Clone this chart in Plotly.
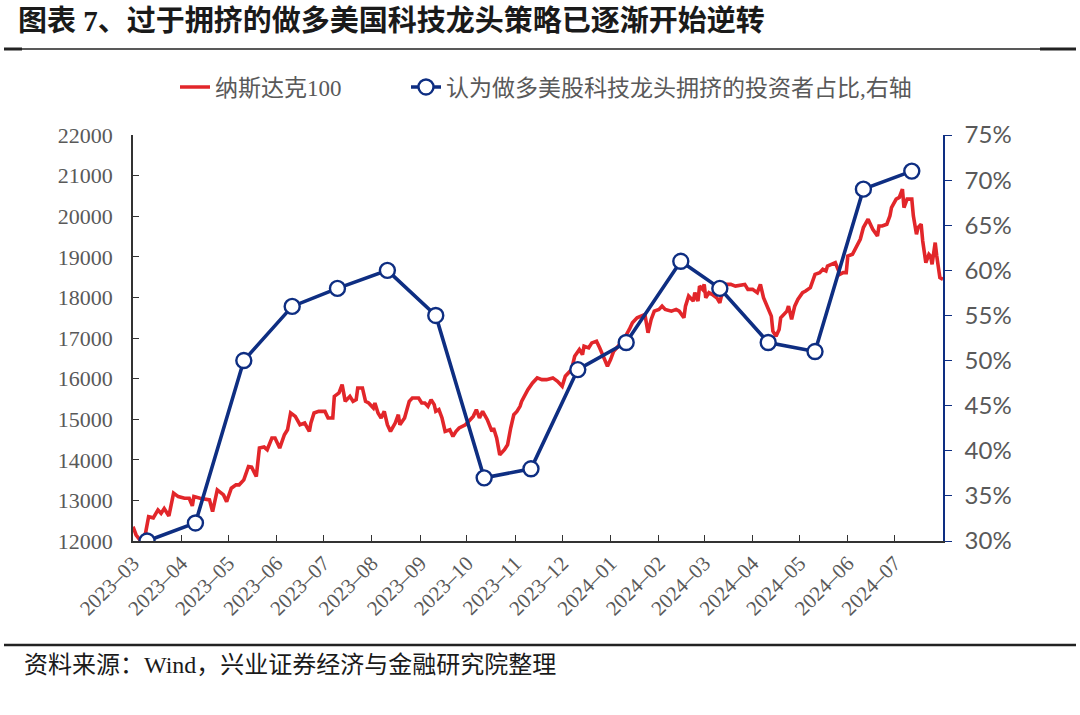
import pandas as pd
import plotly.graph_objects as go

# ---------------- data ----------------
ndx_dates = [
    "2023-03-01", "2023-03-03", "2023-03-06", "2023-03-09", "2023-03-11", "2023-03-14", "2023-03-17", "2023-03-19",
    "2023-03-21", "2023-03-24", "2023-03-27", "2023-03-30",
    "2023-04-03", "2023-04-06", "2023-04-08", "2023-04-09", "2023-04-13", "2023-04-17", "2023-04-19", "2023-04-21",
    "2023-04-24", "2023-04-28", "2023-04-30",
    "2023-05-03", "2023-05-06", "2023-05-08", "2023-05-11", "2023-05-14", "2023-05-16", "2023-05-19", "2023-05-21",
    "2023-05-24", "2023-05-26", "2023-05-29", "2023-05-31",
    "2023-06-03", "2023-06-06", "2023-06-08", "2023-06-10", "2023-06-13", "2023-06-16", "2023-06-19", "2023-06-22",
    "2023-06-23", "2023-06-25", "2023-06-28",
    "2023-07-02", "2023-07-04", "2023-07-07", "2023-07-08", "2023-07-11", "2023-07-13", "2023-07-15", "2023-07-18",
    "2023-07-20", "2023-07-22", "2023-07-23", "2023-07-26", "2023-07-28", "2023-07-30",
    "2023-08-02", "2023-08-03", "2023-08-05", "2023-08-07", "2023-08-09", "2023-08-11", "2023-08-13", "2023-08-16",
    "2023-08-18", "2023-08-19", "2023-08-22", "2023-08-25", "2023-08-27", "2023-08-31",
    "2023-09-02", "2023-09-04", "2023-09-06", "2023-09-08", "2023-09-10", "2023-09-11", "2023-09-13", "2023-09-15",
    "2023-09-17", "2023-09-20", "2023-09-22", "2023-09-24", "2023-09-26", "2023-09-30",
    "2023-10-03", "2023-10-05", "2023-10-07", "2023-10-09", "2023-10-11", "2023-10-14", "2023-10-17", "2023-10-18",
    "2023-10-20", "2023-10-22", "2023-10-25", "2023-10-27", "2023-10-29", "2023-10-31",
    "2023-11-02", "2023-11-04", "2023-11-05", "2023-11-07", "2023-11-09", "2023-11-12", "2023-11-15", "2023-11-18",
    "2023-11-21", "2023-11-25", "2023-11-28",
    "2023-12-01", "2023-12-03", "2023-12-07", "2023-12-09", "2023-12-12", "2023-12-14", "2023-12-15", "2023-12-18",
    "2023-12-20", "2023-12-23", "2023-12-25", "2023-12-27", "2023-12-30",
    "2024-01-01", "2024-01-03", "2024-01-05", "2024-01-08", "2024-01-10", "2024-01-13", "2024-01-15", "2024-01-18",
    "2024-01-20", "2024-01-23", "2024-01-25", "2024-01-27", "2024-01-29",
    "2024-02-01", "2024-02-03", "2024-02-05", "2024-02-09", "2024-02-12", "2024-02-14", "2024-02-17", "2024-02-18",
    "2024-02-20", "2024-02-23", "2024-02-24", "2024-02-26", "2024-02-27", "2024-02-29",
    "2024-03-01", "2024-03-02", "2024-03-04", "2024-03-06", "2024-03-09", "2024-03-11", "2024-03-13", "2024-03-15",
    "2024-03-18", "2024-03-21", "2024-03-25", "2024-03-27", "2024-03-29",
    "2024-04-01", "2024-04-04", "2024-04-06", "2024-04-08", "2024-04-11", "2024-04-13", "2024-04-14", "2024-04-16",
    "2024-04-18", "2024-04-19", "2024-04-23", "2024-04-24", "2024-04-26", "2024-04-28", "2024-04-30",
    "2024-05-03", "2024-05-05", "2024-05-08", "2024-05-11", "2024-05-14", "2024-05-16", "2024-05-18", "2024-05-19",
    "2024-05-21", "2024-05-24", "2024-05-27", "2024-05-29", "2024-05-31",
    "2024-06-01", "2024-06-04", "2024-06-07", "2024-06-09", "2024-06-11", "2024-06-13", "2024-06-14", "2024-06-16",
    "2024-06-17", "2024-06-20", "2024-06-21", "2024-06-23", "2024-06-26", "2024-06-28", "2024-06-29",
    "2024-07-02", "2024-07-04", "2024-07-06", "2024-07-07", "2024-07-09", "2024-07-12", "2024-07-13", "2024-07-15",
    "2024-07-16", "2024-07-18", "2024-07-19", "2024-07-21", "2024-07-23", "2024-07-24", "2024-07-25", "2024-07-27",
    "2024-07-28", "2024-07-30", "2024-08-01",
]

ndx_values = [
    12353, 12148, 12000, 12190, 12600, 12570, 12765, 12680, 12800, 12617, 13178, 13094,
    13054, 13054, 12864, 13094, 13054, 13012, 13012, 12723, 13259, 13136, 12970,
    13300, 13383, 13383, 13506, 13835, 13820, 13588, 14289, 14314, 14247, 14536, 14536,
    14289, 14617, 14740, 15153, 15070, 14864, 14906, 14700, 14906, 15153, 15193,
    15193, 15030, 15030, 15563, 15647, 15852, 15440, 15563, 15440, 15481, 15770, 15770, 15440, 15400,
    15277, 15400, 15153, 15030, 15193, 14864, 14700, 14906, 15111, 14864, 15030, 15440, 15523, 15523,
    15400, 15400, 15317, 15481, 15358, 15193, 15235, 15030, 14700, 14740, 14576, 14700, 14783, 14864,
    14988, 15070, 15235, 15030, 15193, 14988, 14700, 14783, 14536, 14123, 14247, 14370, 14783, 15111,
    15193, 15317, 15440, 15605, 15728, 15893, 16017, 15975, 15975, 16017, 15933,
    15810, 16057, 16222, 16550, 16716, 16592, 16798, 16758, 16880, 16921, 16758, 16592, 16304,
    16469, 16674, 16758, 16921, 17004, 17210, 17375, 17498, 17540, 17580, 17128, 17457, 17662,
    17704, 17785, 17704, 17662, 17704, 17662, 17498, 17785, 18032, 17909, 18116, 17909, 18279, 18197,
    18321, 17993, 18116, 18074, 17993, 17868, 18197, 18321, 18321, 18279, 18321, 18321, 18197,
    18197, 18116, 18321, 17993, 17745, 17540, 17168, 17045, 17210, 17498, 17662, 17785, 17457, 17785, 17951,
    18116, 18156, 18239, 18568, 18609, 18691, 18650, 18774, 18814, 18856, 18568, 18609, 18609,
    19020, 19062, 19267, 19432, 19721, 19885, 19926, 19760, 19679, 19514, 19760, 19760, 19802, 20008, 20214,
    20420, 20462, 20667, 20214, 20420, 20420, 20008, 19555, 19721, 19802, 19390, 18856, 19062, 19020, 18814,
    19350, 19020, 18486, 18444,
]

survey_dates = [
    "2023-03-10", "2023-04-10", "2023-05-11", "2023-06-11", "2023-07-10", "2023-08-11",
    "2023-09-11", "2023-10-12", "2023-11-11", "2023-12-11", "2024-01-11", "2024-02-15",
    "2024-03-11", "2024-04-11", "2024-05-11", "2024-06-11", "2024-07-12",
]
survey_values = [30, 32, 50, 56, 58, 60, 55, 37, 38, 49, 52, 61, 58, 52, 51, 69, 71]

series_names = ["纳斯达克100", "认为做多美股科技龙头拥挤的投资者占比,右轴"]
month_ticks = pd.date_range("2023-03-01", "2024-07-01", freq="MS")

title_text = "图表 7、过于拥挤的做多美国科技龙头策略已逐渐开始逆转"
source_text = "资料来源：Wind，兴业证券经济与金融研究院整理"

# ---------------- style ----------------
RED = "#E2262A"
NAVY = "#0E2E82"
GRAY = "#595959"
SERIF = "Liberation Serif, Noto Sans CJK SC"

fig = go.Figure()
fig.add_trace(go.Scatter(
    x=pd.to_datetime(ndx_dates), y=ndx_values, name=series_names[0], mode="lines",
    line=dict(color=RED, width=3.6), yaxis="y", legend="legend",
))
fig.add_trace(go.Scatter(
    x=pd.to_datetime(survey_dates), y=survey_values, name=series_names[1], mode="lines+markers",
    line=dict(color=NAVY, width=3.6),
    marker=dict(size=15, color="white", line=dict(color=NAVY, width=2.4)),
    yaxis="y2", legend="legend2",
))

W, H = 1080, 715
L, R, T, B = 133, 137, 135, 174
pw, ph = W - L - R, H - T - B


def px(xpix):
    return (xpix - L) / pw


def py(ypix):
    return (H - B - ypix) / ph


shapes = [
    dict(type="line", xref="paper", yref="paper", x0=px(4), x1=px(1076), y0=py(49), y1=py(49),
         line=dict(color="#222222", width=1.5)),
    dict(type="line", xref="paper", yref="paper", x0=px(4), x1=px(22), y0=py(49), y1=py(49),
         line=dict(color="#222222", width=3)),
    dict(type="line", xref="paper", yref="paper", x0=px(1040), x1=px(1076), y0=py(49), y1=py(49),
         line=dict(color="#222222", width=3)),
    dict(type="line", xref="paper", yref="paper", x0=px(4), x1=px(1076), y0=py(645), y1=py(645),
         line=dict(color="#222222", width=2.5)),
]

legend_common = dict(orientation="h", xanchor="left", yanchor="middle", y=py(87),
                     font=dict(family=SERIF, size=23, color=GRAY), bgcolor="rgba(0,0,0,0)")

fig.update_layout(
    width=W, height=H, autosize=False,
    margin=dict(l=L, r=R, t=T, b=B),
    paper_bgcolor="white", plot_bgcolor="white",
    title=dict(text=title_text, x=18 / W, xanchor="left", xref="container",
               y=1 - 21 / H, yanchor="middle", yref="container",
               font=dict(family=SERIF, size=29, color="#1a1a1a", weight="bold")),
    showlegend=True,
    legend=dict(x=px(175), **legend_common),
    legend2=dict(x=px(406), **legend_common),
    xaxis=dict(type="date", range=["2023-03-01", "2024-08-01"], tickvals=month_ticks,
               tickformat="%Y–%m", tickangle=-45, ticks="inside", ticklen=6, tickwidth=1.3,
               tickcolor="#333333", showline=True, linecolor="#333333", linewidth=1.5,
               showgrid=False, zeroline=False,
               tickfont=dict(family=SERIF, size=21, color=GRAY)),
    yaxis=dict(range=[12000, 22000], dtick=1000, tickformat="d", ticks="inside", ticklen=6,
               tickwidth=1.3, tickcolor="#333333", showline=True, linecolor="#333333", linewidth=1.5,
               showgrid=False, zeroline=False, ticklabelstandoff=14,
               tickfont=dict(family=SERIF, size=22, color=GRAY)),
    yaxis2=dict(range=[30, 75], dtick=5, ticksuffix="%", overlaying="y", side="right",
                ticks="outside", ticklen=7, tickwidth=1.3, tickcolor=NAVY,
                showline=True, linecolor=NAVY, linewidth=1.5, showgrid=False, zeroline=False,
                ticklabelstandoff=8,
                tickfont=dict(family="Lato, Open Sans", size=24, color=GRAY)),
    shapes=shapes,
    annotations=[dict(text=source_text, xref="paper", yref="paper", x=px(22), y=py(665),
                      xanchor="left", yanchor="middle", showarrow=False,
                      font=dict(family=SERIF, size=24, color="#1a1a1a"))],
)

fig.write_html("out.html")
